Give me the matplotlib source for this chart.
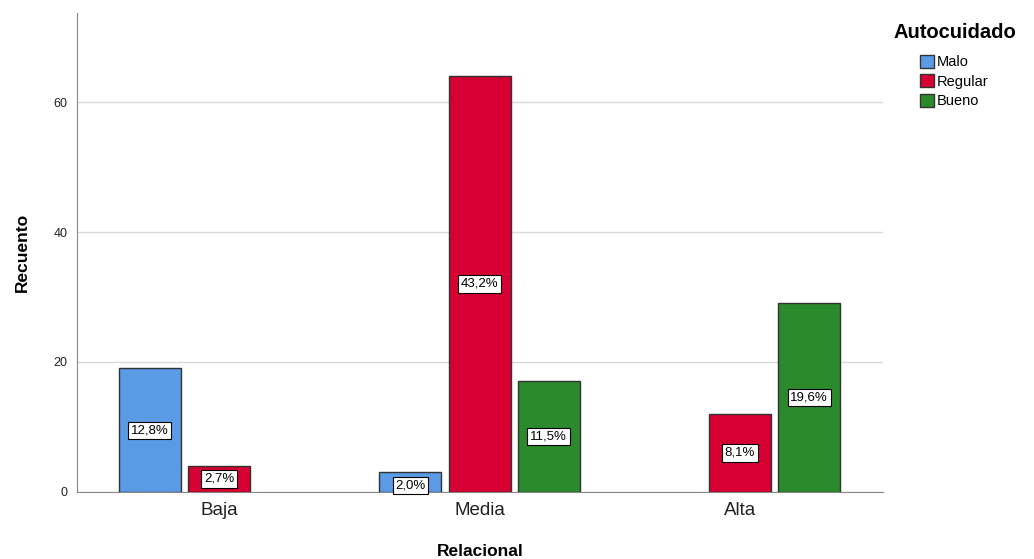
import numpy as np
import matplotlib
matplotlib.use('Agg')
import matplotlib.pyplot as plt

plt.rcParams['font.family'] = ['Liberation Sans', 'DejaVu Sans']

categories = ['Baja', 'Media', 'Alta']
series = ['Malo', 'Regular', 'Bueno']
counts = {
    'Malo': [19, 3, 0],
    'Regular': [4, 64, 12],
    'Bueno': [0, 17, 29],
}
percents = {
    'Malo': ['12,8%', '2,0%', ''],
    'Regular': ['2,7%', '43,2%', '8,1%'],
    'Bueno': ['', '11,5%', '19,6%'],
}
colors = {'Malo': '#5a9be6', 'Regular': '#d60032', 'Bueno': '#2b8a2b'}

fig = plt.figure(figsize=(10.34, 5.59), dpi=100)
ax = fig.add_axes([0.0745, 0.12, 0.7795, 0.8567])

x = np.arange(len(categories))
width = 0.238
step = 0.265
for k, s in enumerate(series):
    pos = x + (k - 1) * step
    vals = np.array(counts[s])
    for p, v, lab in zip(pos, vals, percents[s]):
        if v <= 0:
            continue
        ax.bar(p, v, width, color=colors[s], edgecolor='#333333', linewidth=1.0, zorder=3)
        # small bars: label sits a little lower, like the original
        ax.text(p, v / 2 - (0.5 if v < 4 else 0), lab, ha='center', va='center', fontsize=9.5,
                zorder=4, clip_on=False,
                bbox=dict(boxstyle='square,pad=0.2', facecolor='white',
                          edgecolor='black', linewidth=0.8))

ax.set_xlim(-0.545, 2.549)
ax.set_ylim(0, 73.7)
ax.set_yticks([0, 20, 40, 60])
ax.set_xticks(x)
ax.set_xticklabels(categories, fontsize=13.5)
ax.tick_params(axis='x', length=0, pad=7, labelcolor='#222222')
ax.tick_params(axis='y', length=0, labelsize=9, pad=7, labelcolor='#222222')
ax.yaxis.grid(True, color='#d9d9d9', linewidth=1.0, zorder=0)
for sp in ['top', 'right']:
    ax.spines[sp].set_visible(False)
ax.spines['left'].set_color('#888888')
ax.spines['bottom'].set_color('#888888')
ax.set_xlabel('Relacional', fontsize=12.5, fontweight='bold', labelpad=18)
ax.set_ylabel('Recuento', fontsize=12.5, fontweight='bold', labelpad=17)

fig.text(893 / 1034, 1 - 33 / 559, 'Autocuidado', fontsize=14.5, fontweight='bold',
         ha='left', va='center')
handles = [plt.Rectangle((0, 0), 1, 1, facecolor=colors[s], edgecolor='#333333') for s in series]
leg = fig.legend(handles, series, loc='upper left', bbox_to_anchor=(0.890, 0.9025),
                 frameon=False, fontsize=10.5, borderpad=0, borderaxespad=0,
                 handlelength=0.95, handleheight=1.0, handletextpad=0.15, labelspacing=0.35)

fig.savefig('out.png', dpi=100)
